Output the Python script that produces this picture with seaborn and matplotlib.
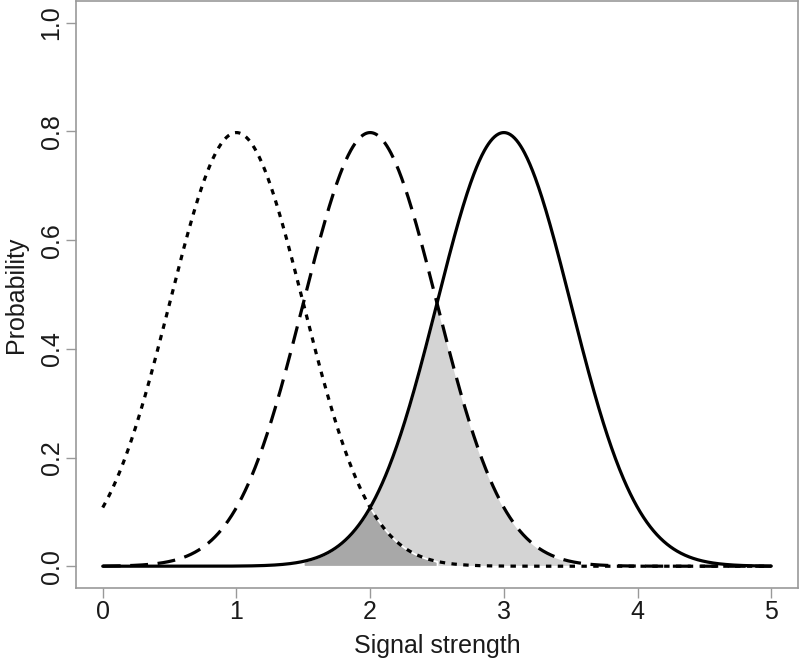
import numpy as np
import pandas as pd
import matplotlib
matplotlib.use("Agg")
import matplotlib.pyplot as plt
import seaborn as sns

# curve parameters (normal densities: peaks ~0.8 at 1, 2, 3)
means = [1, 2, 3]
sd = 0.5
styles = ["dotted", "dashed", "solid"]
x_range = [0, 5]
# shaded areas
light_span = [1.5, 3.5]   # under min(solid, dashed)
dark_span = [1.5, 2.5]    # under min(solid, dotted)

x_ticks = [0, 1, 2, 3, 4, 5]
y_ticks = [0.0, 0.2, 0.4, 0.6, 0.8, 1.0]

sns.set_theme(style="white")
plt.rcParams["font.family"] = ["Liberation Sans", "DejaVu Sans"]

xs = np.linspace(x_range[0], x_range[1], 1001)
df = pd.DataFrame({"x": xs})
for m, s in zip(means, styles):
    df[s] = np.exp(-0.5 * ((xs - m) / sd) ** 2) / (sd * np.sqrt(2 * np.pi))

fig = plt.figure(figsize=(8, 6.61), dpi=100)
ax = fig.add_axes([0.095, 0.1105, 0.9025, 0.888])

# shaded regions
sel = (df["x"] >= light_span[0]) & (df["x"] <= light_span[1])
ax.fill_between(df["x"][sel], 0, np.minimum(df["solid"], df["dashed"])[sel],
                color="#d4d4d4", edgecolor="white", linewidth=1.2, zorder=1)
sel = (df["x"] >= dark_span[0]) & (df["x"] <= dark_span[1])
ax.fill_between(df["x"][sel], 0, np.minimum(df["solid"], df["dotted"])[sel],
                color="#a8a8a8", edgecolor="white", linewidth=1.2, zorder=2)

ls = {"dotted": (0, (1.7, 2.0)), "dashed": (0, (5.6, 3.0)), "solid": "-"}
for s in styles:
    sns.lineplot(data=df, x="x", y=s, ax=ax, color="black", lw=2.3,
                 linestyle=ls[s], zorder=3)

ax.set_xlim(-0.2, 5.2)
ax.set_ylim(-0.04, 1.04)
ax.set_xticks(x_ticks)
ax.set_xticklabels([str(t) for t in x_ticks])
ax.set_yticks(y_ticks)
ax.set_yticklabels([f"{t:.1f}" for t in y_ticks], rotation=90, va="center")
ax.tick_params(axis="both", length=7, width=1, color="#999999", labelsize=18,
               labelcolor="#1a1a1a", direction="out", pad=2, bottom=True, left=True)
for sp in ax.spines.values():
    sp.set_color("#999999")
    sp.set_linewidth(1.2)
ax.set_xlabel("Signal strength", fontsize=18, color="#1a1a1a", labelpad=7)
ax.set_ylabel("Probability", fontsize=18, color="#1a1a1a", labelpad=8)

fig.savefig("out.png", dpi=100)
